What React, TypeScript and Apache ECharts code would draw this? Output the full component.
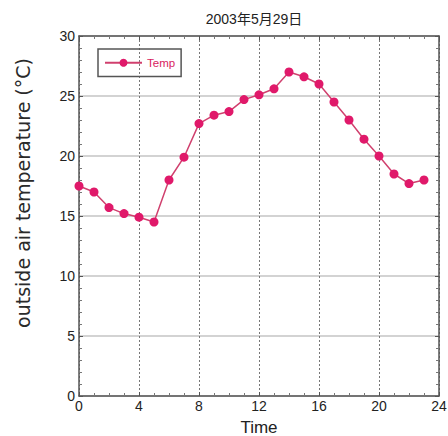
import React, { useEffect, useRef } from "react";
import * as echarts from "echarts";

const title = "2003年5月29日";
const seriesName = "Temp";
const hours = [0, 1, 2, 3, 4, 5, 6, 7, 8, 9, 10, 11, 12, 13, 14, 15, 16, 17, 18, 19, 20, 21, 22, 23];
const temps = [17.5, 17.0, 15.7, 15.2, 14.9, 14.5, 18.0, 19.9, 22.7, 23.4, 23.7, 24.7, 25.1, 25.6, 27.0, 26.6, 26.0, 24.5, 23.0, 21.4, 20.0, 18.5, 17.7, 18.0];
const xAxisName = "Time";
const yAxisName = "outside air temperature (°C)";

const FONT = "'Liberation Sans', 'Noto Sans CJK JP', sans-serif";

export default function App() {
  const ref = useRef<HTMLDivElement>(null);
  useEffect(() => {
    if (!ref.current) return;
    const chart = echarts.init(ref.current, undefined, { renderer: "svg" });
    const axisLineStyle = { color: "#555", width: 1.5 };
    chart.setOption({
      animation: false,
      backgroundColor: "#fff",
      textStyle: { fontFamily: FONT },
      grid: {
        left: 79,
        right: 9,
        top: 36,
        bottom: 40,
        containLabel: false,
        outerBoundsMode: "none",
      },
      graphic: [
        {
          type: "text",
          x: 254,
          y: 19,
          style: {
            text: title,
            fontSize: 14,
            fill: "#222",
            fontFamily: FONT,
            align: "center",
            verticalAlign: "middle",
          },
        },
        {
          type: "text",
          x: 23,
          y: 193,
          rotation: Math.PI / 2,
          style: {
            text: yAxisName,
            fontSize: 19,
            fill: "#2a2a2a",
            fontFamily: "'DejaVu Sans', sans-serif",
            align: "center",
            verticalAlign: "middle",
          },
        },
      ],
      legend: {
        left: 98,
        top: 49,
        padding: [8, 6, 8, 6],
        borderColor: "#555",
        borderWidth: 1.5,
        borderRadius: 0,
        itemWidth: 37,
        itemHeight: 10,
        itemGap: 5,
        textStyle: { color: "#d81b60", fontSize: 11.5, fontFamily: FONT },
        data: [seriesName],
      },
      xAxis: [
        {
          type: "value",
          min: 0,
          max: 24,
          interval: 4,
          name: xAxisName,
          nameLocation: "middle",
          nameGap: 23,
          nameTextStyle: { fontSize: 17, color: "#222", fontFamily: FONT },
          axisLine: { show: true, onZero: false, lineStyle: axisLineStyle },
          axisTick: { show: true, inside: true, length: 4, lineStyle: { color: "#555" } },
          minorTick: { show: true, splitNumber: 4, length: 3, lineStyle: { color: "#777" } },
          axisLabel: { fontSize: 14, color: "#222", margin: 3, fontFamily: FONT },
          splitLine: { show: true, lineStyle: { color: "#777", type: [2, 2], width: 1 } },
        },
        {
          type: "value",
          position: "top",
          min: 0,
          max: 24,
          interval: 4,
          axisLine: { show: true, onZero: false, lineStyle: axisLineStyle },
          axisTick: { show: true, inside: true, length: 4, lineStyle: { color: "#555" } },
          minorTick: { show: true, splitNumber: 4, length: 3, lineStyle: { color: "#777" } },
          axisLabel: { show: false },
          splitLine: { show: false },
        },
      ],
      yAxis: [
        {
          type: "value",
          min: 0,
          max: 30,
          interval: 5,
          axisLine: { show: true, onZero: false, lineStyle: axisLineStyle },
          axisTick: { show: true, inside: true, length: 4, lineStyle: { color: "#555" } },
          minorTick: { show: true, splitNumber: 5, length: 3, lineStyle: { color: "#777" } },
          axisLabel: { fontSize: 14, color: "#222", margin: 4, fontFamily: FONT },
          splitLine: { show: true, lineStyle: { color: "#c4c4c4", width: 1.5 } },
        },
        {
          type: "value",
          position: "right",
          min: 0,
          max: 30,
          interval: 5,
          axisLine: { show: true, onZero: false, lineStyle: axisLineStyle },
          axisTick: { show: true, inside: true, length: 4, lineStyle: { color: "#555" } },
          minorTick: { show: true, splitNumber: 5, length: 3, lineStyle: { color: "#777" } },
          axisLabel: { show: false },
          splitLine: { show: false },
        },
      ],
      series: [
        {
          name: seriesName,
          type: "line",
          data: hours.map((h, i) => [h, temps[i]]),
          symbol: "circle",
          symbolSize: 9,
          itemStyle: { color: "#e0196a" },
          lineStyle: { color: "#d0406e", width: 1.5 },
        },
      ],
    });
    return () => chart.dispose();
  }, []);
  return (
    <div
      ref={ref}
      style={{ position: "fixed", left: 0, top: 0, width: 448, height: 436 }}
    />
  );
}
